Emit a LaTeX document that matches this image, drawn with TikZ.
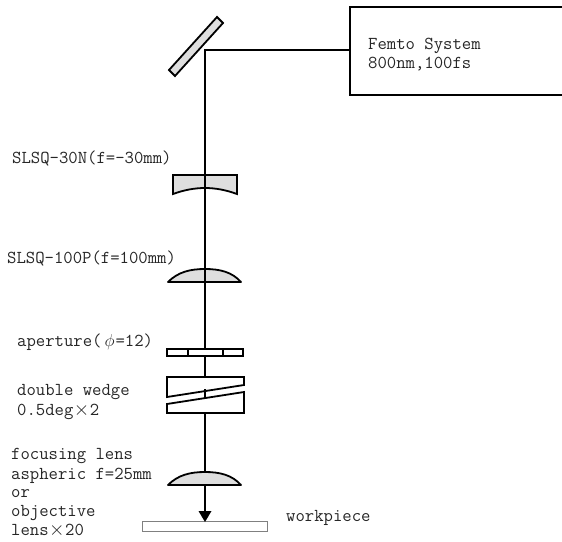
\documentclass[tikz,border=0pt]{standalone}
\tikzset{
  x=1pt,y=-1pt,
  part/.style={draw=black,line width=1.8pt,line join=miter},
  glass/.style={part,fill=black!13},
  beam/.style={draw=black,line width=1.6pt},
  lbl/.style={inner sep=0pt,anchor=base west,text height=11pt,text depth=2pt,font=\ttfamily\fontsize{18.2}{19}\selectfont,text=black!85},
}
\newcommand{\bigx}{\kern0.5pt\raisebox{-0.5pt}{\scalebox{1.15}{$\times$}}\kern0.5pt}
\begin{document}
\begin{tikzpicture}
\useasboundingbox (0,0) rectangle (562,541);
% beam coordinates
\coordinate (mirrorhit) at (205,50);
\coordinate (boxhit) at (350,50);
\coordinate (apTop) at (205,349);
\coordinate (apBot) at (205,356);
\coordinate (w1Top) at (205,377);
\coordinate (w1Bot) at (205,389);
\coordinate (w2Top) at (205,399);
\coordinate (w2Bot) at (205,413);
\coordinate (lensB) at (205,472);
\coordinate (lensBot) at (205,485);
\coordinate (wpTop) at (205,522);
% glass parts first, beam on top
\draw[glass] (173,175) -- (237,175) -- (237,194) .. controls (215,186) and (195,186) .. (173,194) -- cycle;
\draw[glass,line join=round] (168,282) .. controls (178,272) and (190,269) .. (205,269) .. controls (220,269) and (232,272) .. (241,282) -- cycle;
\draw[glass,line join=round] (168,485) .. controls (178,475) and (190,472) .. (205,472) .. controls (220,472) and (232,475) .. (241,485) -- cycle;
% beam
\draw[beam,line join=miter] (boxhit) -- (mirrorhit) -- (apTop);
\draw[beam] (apBot) -- (w1Top);
\draw[beam] (w1Bot) -- (w2Top);
\draw[beam] (w2Bot) -- (lensB);
% laser box, running off the right edge
\draw[part] (562,7) -- (350,7) -- (350,95) -- (562,95);
% mirror
\draw[glass] (217,17) -- (223,23) -- (175,76) -- (169,70) -- cycle;
% aperture
\draw[part] (167,349) rectangle (243,356);
\draw[part] (188,349) -- (188,356);
\draw[part] (223,349) -- (223,356);
% wedges
\draw[part] (167,377) -- (244,377) -- (244,385) -- (167,397) -- cycle;
\draw[part] (244,392) -- (244,413) -- (167,413) -- (167,404) -- cycle;
% workpiece
\node[draw=black!50,line width=.6pt,minimum width=125pt,minimum height=10pt,inner sep=0pt,anchor=north west] (wp) at (142,521) {};
% arrow
\draw[beam] (lensBot) -- (205,512);
\fill[black] (198.5,511) -- (211.5,511) -- (wpTop) -- cycle;
% labels
\node[lbl] (t1) at (368,49) {Femto System};
\node[lbl] (t2) at (368,68) {800nm,100fs};
\node[lbl] (t3) at (12,163) {SLSQ-30N(f=-30mm)};
\node[lbl] (t4) at (7,263) {SLSQ-100P(f=100mm)};
\node[lbl] (t5) at (17,346) {aperture(\kern3pt$\phi$\kern1pt=12)};
\node[lbl] (t6) at (17,395) {double wedge};
\node[lbl] (t7) at (17,415) {0.5deg\bigx2};
\node[lbl] (t8) at (11,459) {focusing lens};
\node[lbl] (t9) at (11,479) {aspheric f=25mm};
\node[lbl] (t10) at (11,497) {or};
\node[lbl] (t11) at (11,516) {objective};
\node[lbl] (t12) at (11,535) {lens\bigx20};
\node[lbl] (t13) at (286,521) {workpiece};
\end{tikzpicture}
\end{document}
